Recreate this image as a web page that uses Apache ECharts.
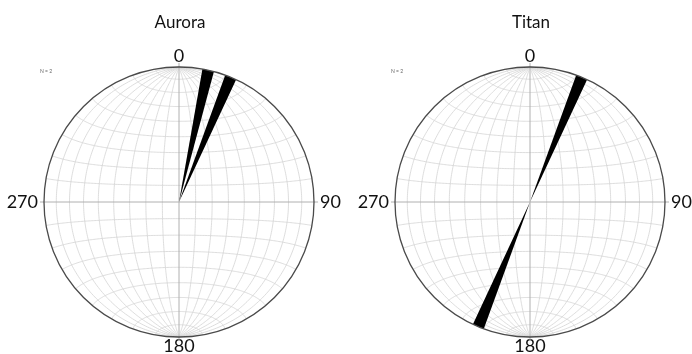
<!DOCTYPE html>
<html>
<head>
<meta charset="utf-8">
<script src="https://cdn.jsdelivr.net/npm/echarts@6/dist/echarts.min.js"></script>
<style>
  html, body { margin: 0; padding: 0; background: #fff; }
  #chart { width: 692px; height: 354px; }
</style>
</head>
<body>
<div id="chart"></div>
<script>
// Rose-diagram data: start of each 5° azimuth bin and its count
const binWidth = 5;
const auroraBins = [10, 20];
const auroraCounts = [1, 1];
const titanBins = [20, 200];
const titanCounts = [2, 2];
const sampleSizes = [2, 2];
const panelTitles = ['Aurora', 'Titan'];
const tickLabels = ['0', '90', '180', '270'];
const tickAngles = [0, 90, 180, 270];

// Layout of the two nets
const centers = [[179, 202], [530, 202]];
const R = 135;
const pad = 1.1; // cartesian extent relative to the net radius

const FONT = 'Lato, "Open Sans", sans-serif';

// Category list for the angle axis (one per bin)
const binLabels = [];
for (let a = 0; a < 360; a += binWidth) binLabels.push(String(a));

function binData(bins, counts) {
  const arr = binLabels.map(() => 0);
  bins.forEach((b, i) => { arr[Math.round(b / binWidth)] = counts[i]; });
  return arr;
}

// Equal-area (Schmidt) equatorial net, poles at top and bottom
function project(phi, lam) {
  const p = phi * Math.PI / 180, l = lam * Math.PI / 180;
  const x = Math.cos(p) * Math.sin(l);
  const y = Math.sin(p);
  const c = Math.cos(p) * Math.cos(l);
  const k = 1 / Math.sqrt(1 + c);
  return [x * k, y * k];
}

function netCurves() {
  const curves = [];
  for (let lam = -80; lam <= 80; lam += 10) {
    if (lam === 0) continue;
    const pts = [];
    for (let phi = -90; phi <= 90; phi += 1) pts.push(project(phi, lam));
    curves.push({ coords: pts });
  }
  for (let phi = -80; phi <= 80; phi += 10) {
    if (phi === 0) continue;
    const pts = [];
    for (let lam = -90; lam <= 90; lam += 1) pts.push(project(phi, lam));
    curves.push({ coords: pts });
  }
  return curves;
}

const diameters = [
  { coords: [[0, -1.03], [0, 1.03]] },
  { coords: [[-1.03, 0], [1.03, 0]] }
];

const chart = echarts.init(document.getElementById('chart'));

const grids = [], xAxes = [], yAxes = [], polars = [], angleAxes = [], radiusAxes = [];
const series = [], graphics = [];
const allBins = [[auroraBins, auroraCounts], [titanBins, titanCounts]];

centers.forEach((c, i) => {
  grids.push({
    left: c[0] - R * pad, top: c[1] - R * pad,
    width: 2 * R * pad, height: 2 * R * pad
  });
  xAxes.push({ type: 'value', gridIndex: i, min: -pad, max: pad, show: false });
  yAxes.push({ type: 'value', gridIndex: i, min: -pad, max: pad, show: false });

  polars.push({ center: c, radius: [0, R] });
  angleAxes.push({
    type: 'category', polarIndex: i, data: binLabels,
    startAngle: 90, clockwise: true, boundaryGap: true,
    axisLine: { show: true, lineStyle: { color: '#4a4a4a', width: 1.3 } },
    axisTick: { show: false }, axisLabel: { show: false },
    splitLine: { show: false }, z: 5
  });
  const counts = allBins[i][1];
  radiusAxes.push({
    type: 'value', polarIndex: i, min: 0, max: Math.max(...counts),
    axisLine: { show: false }, axisTick: { show: false },
    axisLabel: { show: false }, splitLine: { show: false }
  });

  series.push({
    type: 'lines', coordinateSystem: 'cartesian2d',
    xAxisIndex: i, yAxisIndex: i, polyline: true, silent: true,
    lineStyle: { color: '#d4d4d4', width: 0.8, opacity: 1 },
    data: netCurves(), z: 1
  });
  series.push({
    type: 'lines', coordinateSystem: 'cartesian2d',
    xAxisIndex: i, yAxisIndex: i, polyline: true, silent: true,
    lineStyle: { color: '#b0b0b0', width: 1, opacity: 1 },
    data: diameters, z: 2
  });
  series.push({
    type: 'bar', coordinateSystem: 'polar', polarIndex: i,
    data: binData(allBins[i][0], counts),
    barCategoryGap: '0%', itemStyle: { color: '#000' }, z: 4, silent: true
  });

  // Title
  graphics.push({
    type: 'text', x: c[0] + 1, y: 23,
    style: { text: panelTitles[i], font: '17px ' + FONT, fill: '#111',
             textAlign: 'center', textVerticalAlign: 'middle' }
  });
  // Sample size
  graphics.push({
    type: 'text', x: c[0] - R + 2, y: 71,
    style: { text: 'N = ' + sampleSizes[i], font: '5px ' + FONT, fill: '#666',
             textAlign: 'center', textVerticalAlign: 'middle' }
  });
  // Cardinal azimuth labels just outside the primitive circle
  tickAngles.forEach((ang, j) => {
    const t = ang * Math.PI / 180;
    const off = ang === 0 ? 11 : ang === 180 ? 9 : 6;
    const x = c[0] + Math.sin(t) * (R + off);
    const y = c[1] - Math.cos(t) * (R + off);
    const align = ang === 90 ? 'left' : ang === 270 ? 'right' : 'center';
    graphics.push({
      type: 'text', x: x, y: y,
      style: { text: tickLabels[j], font: '18px ' + FONT, fill: '#111',
               textAlign: align, textVerticalAlign: 'middle' }
    });
  });
});

chart.setOption({
  animation: false,
  backgroundColor: '#fff',
  grid: grids, xAxis: xAxes, yAxis: yAxes,
  polar: polars, angleAxis: angleAxes, radiusAxis: radiusAxes,
  series: series,
  graphic: graphics
});
</script>
</body>
</html>
